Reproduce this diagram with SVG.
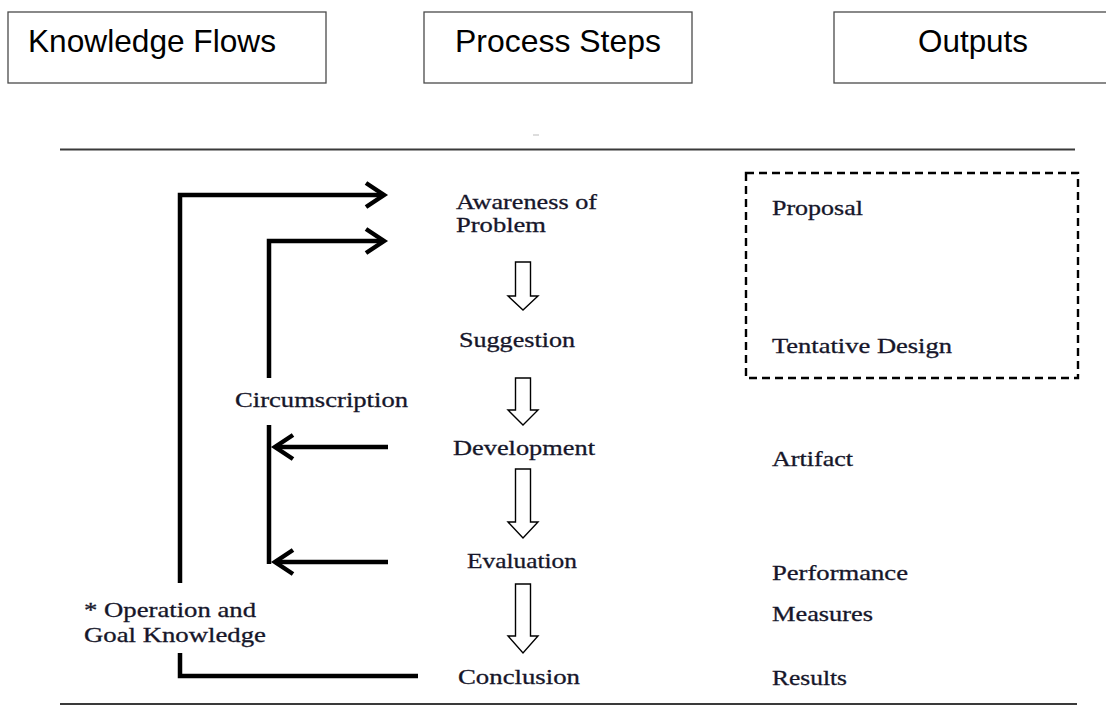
<svg xmlns="http://www.w3.org/2000/svg" width="1106" height="711" viewBox="0 0 1106 711">
<style>
.hdr{fill:#fff;stroke:#4a4a4a;stroke-width:1.3}
.ht{font-family:"Liberation Sans",Arial,sans-serif;font-size:32px;fill:#000}
.t{font-family:"Liberation Serif","Times New Roman",serif;font-size:21px;fill:#16162a;stroke:#16162a;stroke-width:0.3}
.rule{stroke:#3a3a3a;stroke-width:2}
.flow{fill:none;stroke:#000;stroke-width:4.5;stroke-linejoin:miter;stroke-linecap:butt}
.blk{fill:#fff;stroke:#000;stroke-width:1.4;stroke-linejoin:miter}
</style>
<defs>
<marker id="ah" markerUnits="userSpaceOnUse" viewBox="-24 -16 30 32" refX="0" refY="0" markerWidth="30" markerHeight="32" orient="auto">
<path d="M-18,-12 L0,0 L-18,12" fill="none" stroke="#000" stroke-width="4.5" stroke-linejoin="miter" stroke-miterlimit="10"/>
</marker>
</defs>
<rect width="1106" height="711" fill="#fff"/>

<g id="hdr-knowledge"><rect class="hdr" x="8" y="12" width="318" height="71"/><text class="ht" x="28" y="52" textLength="248" lengthAdjust="spacingAndGlyphs">Knowledge Flows</text></g>
<g id="hdr-process"><rect class="hdr" x="424" y="12" width="268" height="71"/><text class="ht" x="455" y="52" textLength="206" lengthAdjust="spacingAndGlyphs">Process Steps</text></g>
<g id="hdr-outputs"><rect class="hdr" x="834" y="12" width="280" height="71"/><text class="ht" x="918" y="52" textLength="110" lengthAdjust="spacingAndGlyphs">Outputs</text></g>

<g id="rules">
<line class="rule" x1="60" y1="149.5" x2="1075" y2="149.5"/>
<line x1="533" y1="135" x2="539" y2="135" stroke="#bbb" stroke-width="1"/>
<line class="rule" x1="60" y1="704" x2="1077" y2="704"/>
</g>

<g id="step-awareness"><text class="t" x="456" y="209" textLength="141" lengthAdjust="spacingAndGlyphs">Awareness of</text><text class="t" x="456" y="232" textLength="90" lengthAdjust="spacingAndGlyphs">Problem</text></g>
<g id="step-suggestion"><text class="t" x="459" y="347" textLength="116" lengthAdjust="spacingAndGlyphs">Suggestion</text></g>
<g id="step-development"><text class="t" x="453" y="455" textLength="142" lengthAdjust="spacingAndGlyphs">Development</text></g>
<g id="step-evaluation"><text class="t" x="467" y="568" textLength="110" lengthAdjust="spacingAndGlyphs">Evaluation</text></g>
<g id="step-conclusion"><text class="t" x="458" y="684" textLength="122" lengthAdjust="spacingAndGlyphs">Conclusion</text></g>

<g id="label-circumscription"><text class="t" x="235" y="407" textLength="173" lengthAdjust="spacingAndGlyphs">Circumscription</text></g>
<g id="label-operation"><text class="t" x="84" y="617" textLength="172" lengthAdjust="spacingAndGlyphs">* Operation and</text><text class="t" x="84" y="642" textLength="182" lengthAdjust="spacingAndGlyphs">Goal Knowledge</text></g>

<g id="out-design">
<rect x="746" y="173" width="332" height="205" fill="none" stroke="#000" stroke-width="2.4" stroke-dasharray="8,5"/>
<text class="t" x="772" y="215" textLength="91" lengthAdjust="spacingAndGlyphs">Proposal</text>
<text class="t" x="772" y="353" textLength="180" lengthAdjust="spacingAndGlyphs">Tentative Design</text>
</g>
<g id="out-artifact"><text class="t" x="772" y="466" textLength="81" lengthAdjust="spacingAndGlyphs">Artifact</text></g>
<g id="out-performance"><text class="t" x="772" y="580" textLength="136" lengthAdjust="spacingAndGlyphs">Performance</text><text class="t" x="772" y="621" textLength="101" lengthAdjust="spacingAndGlyphs">Measures</text></g>
<g id="out-results"><text class="t" x="772" y="685" textLength="75" lengthAdjust="spacingAndGlyphs">Results</text></g>

<g id="connectors">
<path class="flow" d="M418,676 H180 V653"/>
<path class="flow" d="M180,583 V195 H384" marker-end="url(#ah)"/>
<path class="flow" d="M269,378 V241 H384" marker-end="url(#ah)"/>
<path class="flow" d="M269,425 V564"/>
<path class="flow" d="M388,447 H275" marker-end="url(#ah)"/>
<path class="flow" d="M388,562 H275" marker-end="url(#ah)"/>
<path class="blk" d="M515.5,262 H530.5 V296 H538 L523,310 L508,296 H515.5 Z"/>
<path class="blk" d="M515.5,378 H530.5 V410 H538 L523,425 L508,410 H515.5 Z"/>
<path class="blk" d="M515.5,469 H530.5 V522 H538 L523,538 L508,522 H515.5 Z"/>
<path class="blk" d="M515.5,584 H530.5 V636 H538 L523,653 L508,636 H515.5 Z"/>
</g>
</svg>
